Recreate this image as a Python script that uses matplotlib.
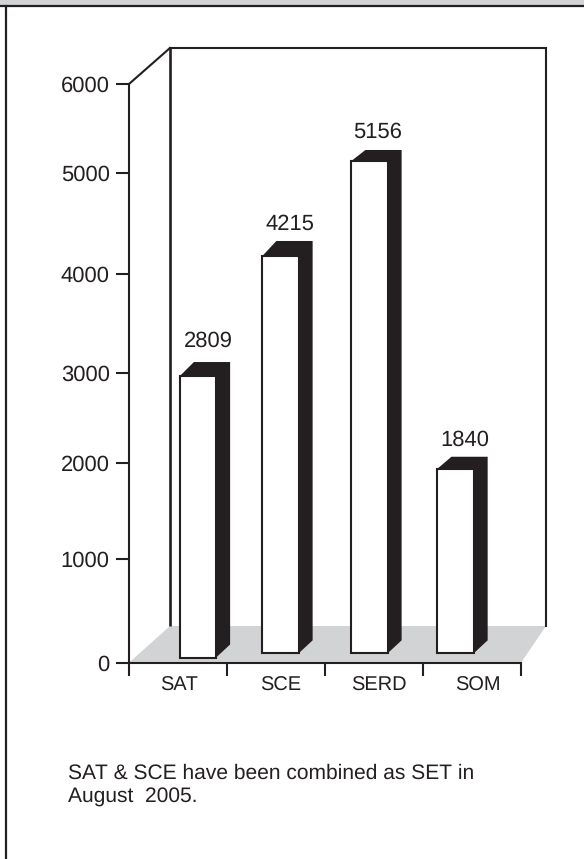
import matplotlib
matplotlib.use("Agg")
import matplotlib.pyplot as plt
import numpy as np
from matplotlib.patches import Polygon, Rectangle
from matplotlib.transforms import IdentityTransform

plt.rcParams['font.family'] = ['Liberation Sans', 'DejaVu Sans']
plt.rcParams['text.hinting'] = 'none'
plt.rcParams['text.hinting_factor'] = 1

# Data
categories = ['SAT', 'SCE', 'SERD', 'SOM']
value_labels = [2809, 4215, 5156, 1840]
# the bars are not drawn true to their labels, so heights are read off the axis
bar_tops = [2963, 4176, 5135, 1937]
bar_bases = [50, 90, 90, 90]
y_ticks = [0, 1000, 2000, 3000, 4000, 5000, 6000]
# the printed axis is unevenly spaced, pixel row of each tick
y_tick_rows = [662.7, 558.7, 462.7, 372.7, 273.7, 173, 84]

W, H = 584, 859
DARK = '#231f20'
GREY = '#d1d3d4'

# Layout
bar_offsets = [0.204, 0.046, -0.046, -0.168]
bar_width = 0.37
depth_dx = 14
top_dy = [14, 15, 11, 12]
base_dy = 13
label_dx = [10, 9.5, 8.5, 9]
label_dy = [35, 32, 29, 29]
cat_label_pos = [0.515, 1.545, 2.545, 3.565]

fig = plt.figure(figsize=(W / 100, H / 100), dpi=100)

# Page furniture and the fake 3D box, in pixel coordinates
bg = fig.add_axes([0, 0, 1, 1])
bg.set_xlim(0, W)
bg.set_ylim(H, 0)
bg.axis('off')
bg.add_patch(Rectangle((0, 0), W, 5, color=GREY, lw=0))
bg.plot([0, W], [6, 6], color=DARK, lw=1.6)
bg.plot([5.5, 5.5], [6, H], color=DARK, lw=1.6)
bg.add_patch(Polygon([(129, 662.7), (170, 626), (546, 626), (521, 662.7)], color=GREY, lw=0))
bg.plot([129, 170], [84, 48], color=DARK, lw=1.5)
bg.plot([170, 170], [48, 626], color=DARK, lw=1.9, solid_capstyle='butt')
bg.plot([170, 546, 546], [48, 48, 626], color=DARK, lw=1.5, solid_joinstyle='miter')

# Chart axes, x runs over the four category slots
ax = fig.add_axes([129 / W, 1 - 662.7 / H, (521 - 129) / W, (662.7 - 84) / H])
ax.patch.set_alpha(0)
rows = 662.7 - np.array(y_tick_rows)
ax.set_yscale('function', functions=(lambda v: np.interp(v, y_ticks, rows),
                                     lambda r: np.interp(r, rows, y_ticks)))
ax.set_xlim(0, 4)
ax.set_ylim(0, 6000)
ax.spines['top'].set_visible(False)
ax.spines['right'].set_visible(False)
ax.spines['left'].set_color(DARK)
ax.spines['bottom'].set_color(DARK)
ax.spines['left'].set_linewidth(1.5)
ax.spines['bottom'].set_linewidth(1.5)

ax.set_yticks(y_ticks)
ax.set_xticks(range(5))
ax.set_xticklabels([])
ax.set_xticks(cat_label_pos, categories, minor=True)
ax.tick_params(axis='both', which='major', length=9.4, width=1.5, color=DARK,
               labelcolor=DARK, labelsize=16, pad=4.5)
ax.tick_params(axis='x', which='minor', length=0, labelcolor=DARK, labelsize=14.5, pad=9.5)

x_centers = np.arange(4) + 0.5 + np.array(bar_offsets)
heights = np.array(bar_tops) - np.array(bar_bases)
ax.bar(x_centers, heights, bottom=bar_bases, width=bar_width, color='white',
       edgecolor=DARK, linewidth=1.5, zorder=3)

fig.canvas.draw()
for i, x in enumerate(x_centers):
    # dark top and side faces, pushed back from the front of the bar
    x0, top = ax.transData.transform((x - bar_width / 2, bar_tops[i]))
    x1, base = ax.transData.transform((x + bar_width / 2, bar_bases[i]))
    pts = [(x1, base), (x1 + depth_dx, base + base_dy), (x1 + depth_dx, top + top_dy[i]),
           (x0 + depth_dx, top + top_dy[i]), (x0, top), (x1, top)]
    ax.add_patch(Polygon(pts, closed=True, color=DARK, lw=0, transform=IdentityTransform(),
                         clip_on=False, zorder=2.5))
    ax.annotate(str(value_labels[i]), (x, bar_tops[i]),
                xytext=(label_dx[i] * 0.72, label_dy[i] * 0.72), textcoords='offset points',
                ha='center', va='center', fontsize=16, color=DARK, zorder=4)

fig.text(68 / W, 1 - 803 / H, 'SAT & SCE have been combined as SET in\nAugust  2005.',
         fontsize=15, color=DARK, ha='left', va='baseline', linespacing=1.28)

fig.savefig('out.png', dpi=100)
